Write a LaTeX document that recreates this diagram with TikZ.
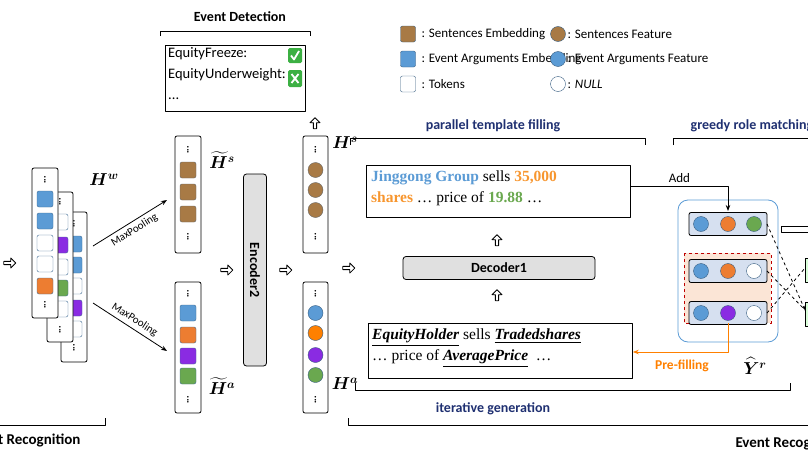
\documentclass[tikz,border=0pt]{standalone}
\usepackage{amsmath,amssymb}
\usepackage{fontspec}
\setmainfont{Liberation Serif}
\newfontfamily\calfont{Carlito}
\usetikzlibrary{shapes.arrows,arrows.meta}
\definecolor{brn}{HTML}{A87A45}
\definecolor{blu}{HTML}{5B9BD5}
\definecolor{org}{HTML}{ED7D31}
\definecolor{orgT}{HTML}{F7962F}
\definecolor{pur}{HTML}{8A2BE2}
\definecolor{grn}{HTML}{6AA84F}
\definecolor{navy}{HTML}{1F3071}
\definecolor{rowbg}{HTML}{D6E0F0}
\definecolor{peach}{HTML}{FBE5D6}
\definecolor{chk}{HTML}{3CB043}
\begin{document}
\begin{tikzpicture}[x=1pt,y=-1pt,line join=round,
 col/.style={draw,thick,rounded corners=2,fill=white},
 cell/.style={draw=blu!70!black,rounded corners=2,minimum width=16,minimum height=16,inner sep=0},
 circ/.style={circle,draw=blu!60!black,minimum size=15,inner sep=0},
 vd/.style={font=\bfseries\fontsize{10}{10}\selectfont,rotate=90,inner sep=0},
 harrow/.style={single arrow,draw,thick,minimum height=12,minimum width=10,single arrow head extend=2.5,inner sep=0.8},
 brk/.style={thick},
 lbl/.style={font=\calfont\fontsize{13}{15}\selectfont,anchor=west},
 nv/.style={font=\calfont\bfseries\fontsize{14}{16}\selectfont,text=navy},
 math/.style={font=\fontsize{17}{17}\selectfont}]
\useasboundingbox (0,0) rectangle (808,455);
% stacked columns (back to front)
\draw[col] (61,212) rectangle (87,362);
\foreach \y/\c in {244/blu,265/blu,286/white,308/pur,329/white}{\node[cell,fill=\c] at (74,\y){};}
\node[vd] at (74,224){...}; \node[vd] at (74,348){...};
\draw[col] (47,192) rectangle (73,342);
\foreach \y/\c in {222/white,245/pur,267/white,288/grn,309/white}{\node[cell,fill=\c] at (60,\y){};}
\node[vd] at (60,202){...}; \node[vd] at (60,330){...};
\draw[col] (32,168) rectangle (58,318);
\foreach \y/\c in {199/blu,221/blu,243/white,264/white,286/org}{\node[cell,fill=\c] at (45,\y){};}
\node[vd] at (45,180){...}; \node[vd] at (45,305){...};
\node[math] (hw) at (104,180) {$\boldsymbol{H^w}$};
\node[harrow] (a0) at (9,263){};
% H tilde s
\draw[col] (175,136) rectangle (201,253);
\foreach \y in {170,192,214}{\node[cell,fill=brn,draw=black!60] at (188,\y){};}
\node[vd] at (188,150){...}; \node[vd] at (188,237){...};
\node[math] at (222,160) {$\boldsymbol{\widetilde{H}^s}$};
% H tilde a
\draw[col] (175,282) rectangle (201,413);
\foreach \y/\c in {313/blu,335/org,356/pur,376/grn}{\node[cell,fill=\c] at (188,\y){};}
\node[vd] at (188,294){...}; \node[vd] at (188,400){...};
\node[math] at (222,386) {$\boldsymbol{\widetilde{H}^a}$};
% maxpooling
\coordinate (m1) at (93,246); \coordinate (m2) at (167,200);
\coordinate (m3) at (93,303); \coordinate (m4) at (167,351);
\draw[thick,-{Stealth[length=6]}] (m1) -- node[sloped,below,font=\calfont\fontsize{11}{11}\selectfont]{MaxPooling} (m2);
\draw[thick,-{Stealth[length=6]}] (m3) -- node[sloped,above,font=\calfont\fontsize{11}{11}\selectfont]{MaxPooling} (m4);
\node[harrow] at (226,270){};
% encoder2
\node[draw,thick,fill=black!12,rounded corners=3,minimum width=23,minimum height=192,inner sep=0] (enc) at (255,270){};
\node[rotate=-90,font=\calfont\bfseries\fontsize{14}{14}\selectfont] at (enc){Encoder2};
\node[harrow] at (285,270){};
% H s, H a
\draw[col] (303,136) rectangle (328,253);
\foreach \y in {170,190,210}{\node[circ,fill=brn,draw=black!60] at (315.5,\y){};}
\node[vd] at (315.5,150){...}; \node[vd] at (315.5,237){...};
\node[math] at (345,143) {$\boldsymbol{H^s}$};
\draw[col] (303,282) rectangle (328,413);
\foreach \y/\c in {313/blu,333/orange,355/pur,375/grn}{\node[circ,fill=\c] at (315.5,\y){};}
\node[vd] at (315.5,294){...}; \node[vd] at (315.5,400){...};
\node[math] at (345,384) {$\boldsymbol{H^a}$};
\node[harrow,shape border rotate=90,minimum height=11] at (315,124){};
% event detection
\node[font=\calfont\bfseries\fontsize{14}{16}\selectfont] at (240,17){Event Detection};
\draw[brk] (160,36) -- (160,31) -- (310,31) -- (310,36);
\draw[thick] (165,45) rectangle (305,111);
\node[font=\calfont\fontsize{14.5}{21}\selectfont,anchor=north west,align=left,inner sep=0] at (168,47)
{EquityFreeze:\\ EquityUnderweight:\\ ...};
\fill[chk,rounded corners=1.5] (288,48) rectangle (302,63);
\draw[white,line width=1.8] (291,55.5) -- (294,59.5) -- (299,51);
\fill[chk,rounded corners=1.5] (288,70) rectangle (302,87);
\draw[white,line width=1.8] (291.5,74) -- (298.5,83) (291.5,83) -- (298.5,74);
% legend
\foreach \y/\c/\t in {34/brn/Sentences Embedding,59/blu/Event Arguments Embedding,84/white/Tokens}{
 \node[cell,fill=\c,draw=blu!60!black,minimum width=15] at (408,\y){};
 \node[lbl] at (418,\y){: \t};}
\foreach \y/\c/\t in {34/brn/Sentences Feature,59/blu/Event Arguments Feature,84/white/\textit{NULL}}{
 \node[circ,fill=\c,draw=blu!60!black] at (558,\y){};
 \node[lbl] at (564,\y){: \t};}
% parallel template filling
\node[nv] at (493,126){parallel template filling};
\draw[brk] (350,145) -- (350,138) -- (645,138) -- (645,145);
\node[nv] at (752,126){greedy role matching};
\draw[brk] (673,145) -- (673,138) -- (820,138);
% template boxes
\node[draw,thick,minimum width=264,minimum height=52,anchor=north west,inner sep=0] (tb) at (366,165){};
\node[anchor=north west,align=left,font=\fontsize{15.5}{21}\selectfont,inner sep=0] at (371,171)
{\textbf{\textcolor{blu}{Jinggong Group}} sells \textbf{\textcolor{orgT}{35,000}}\\
\textbf{\textcolor{orgT}{shares}} \ldots{} price of \textbf{\textcolor{grn}{19.88}} \ldots};
\node[harrow,shape border rotate=90,minimum height=11] at (497,241){};
\node[draw,thick,fill=black!12,rounded corners=3,minimum width=192,minimum height=23,font=\calfont\bfseries\fontsize{14}{14}\selectfont] (dec) at (499,268){Decoder1};
\node[harrow,shape border rotate=90,minimum height=11] at (497,296){};
\node[harrow] at (348,268){};
\node[draw,thick,minimum width=264,minimum height=55,anchor=north west,inner sep=0] (bb) at (368,323){};
\node[anchor=north west,align=left,font=\fontsize{15.5}{21}\selectfont,inner sep=0] at (372,329)
{\underline{\textbf{\textit{EquityHolder}}} sells \underline{\textbf{\textit{Tradedshares}}}\\
\ldots{} price of \underline{\textbf{\textit{AveragePrice}}}\ \ \ldots};
% role matrix
\draw[blu,thick,rounded corners=10] (678,200) rectangle (778,342);
\draw[red!75!black,thick,dashed,fill=peach] (684,253) rectangle (771,323);
\foreach \y/\a/\b/\c in {224/blu/org/grn,271/blu/org/white,313/blu/pur/white}{
 \draw[thick,fill=rowbg,rounded corners=2] (689,\y-11.5) rectangle (767,\y+11.5);
 \node[circ,fill=\a] at (701,\y){}; \node[circ,fill=\b] at (728,\y){}; \node[circ,fill=\c] at (754,\y){};}
\coordinate (r1) at (767,224); \coordinate (r2) at (767,271); \coordinate (r3) at (767,313);
\draw[thick] (781,226) rectangle (812,232);
\draw[thick,fill=green!15] (805,258) rectangle (815,282);
\draw[thick,fill=green!15] (805,302) rectangle (815,326);
\coordinate (g1) at (805,310); \coordinate (g2) at (805,268);
\draw[thick,dashed,-{Stealth[length=4]}] (r1) -- (g1);
\draw[thick,dashed] (r2) -- (g1);
\draw[thick,dashed] (r3) -- (g2);
% add
\draw[thick,-{Stealth[length=6]}] (tb.east |- 0,186) -- node[above,font=\calfont\fontsize{13}{13}\selectfont]{Add} (728,186) -- (728,211);
% prefilling
\draw[orange,thick,-{Stealth[length=6]}] (728,323) -- (728,352) -- (bb.east |- 0,352);
\node[font=\calfont\bfseries\fontsize{13.5}{14}\selectfont,text=orange] at (682,366){Pre-filling};
\node[math] at (755,366){$\boldsymbol{\widehat{Y}^r}$};
% iterative
\draw[brk] (355,383) -- (355,390) -- (790,390) -- (790,383);
\node[nv] at (493,409){iterative generation};
\draw[brk] (348,418) -- (348,425) -- (820,425);
\node[font=\calfont\bfseries\fontsize{15}{16}\selectfont,anchor=west] at (732,443){Event Recognition};
\draw[brk] (-5,425) -- (105,425) -- (105,418);
\node[font=\calfont\bfseries\fontsize{15}{16}\selectfont,anchor=east] at (84,440){Event Recognition};
\end{tikzpicture}
\end{document}
